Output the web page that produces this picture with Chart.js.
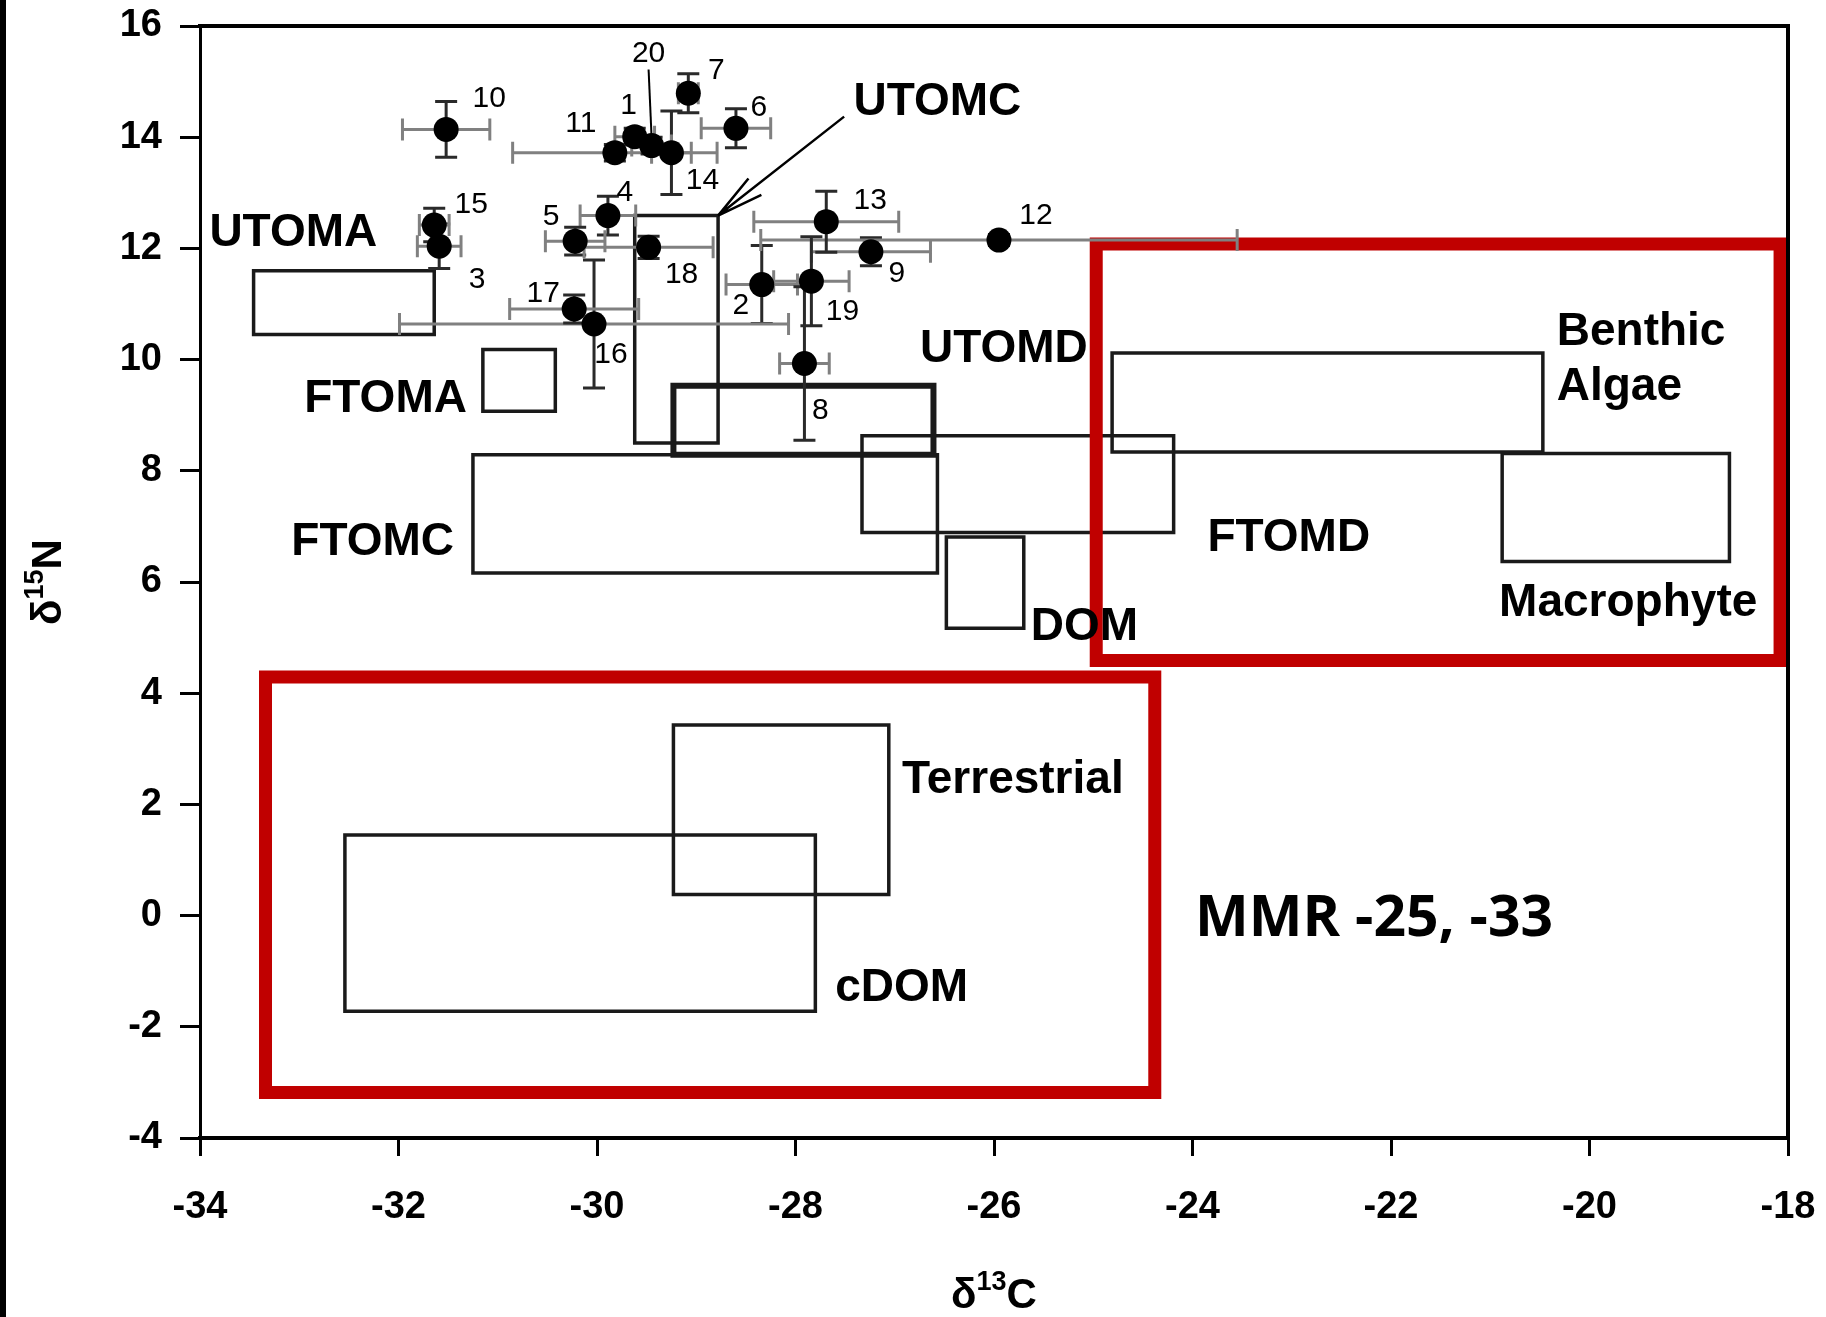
<!DOCTYPE html>
<html>
<head>
<meta charset="utf-8">
<script src="https://cdn.jsdelivr.net/npm/chart.js@4.4.1/dist/chart.umd.min.js"></script>
<style>
  html, body { margin: 0; padding: 0; background: #fff; }
  #wrap { width: 1826px; height: 1317px; }
</style>
</head>
<body>
<div id="wrap"><canvas id="isoChart" width="1826" height="1317"></canvas></div>
<script>
// Données : échantillons (delta13C, delta15N, erreurs)
const pointIds = ['1', '2', '3', '4', '5', '6', '7', '8', '9', '10',
                  '11', '12', '13', '14', '15', '16', '17', '18', '19', '20'];
const pointC13 = [-29.62, -28.34, -31.59, -29.89, -30.22, -28.60, -29.08, -27.91, -27.24, -31.52,
                  -29.82, -25.95, -27.69, -29.25, -31.64, -30.03, -30.23, -29.48, -27.84, -29.45];
const pointN15 = [14.01, 11.35, 12.04, 12.59, 12.13, 14.16, 14.79, 9.93, 11.94, 14.14,
                  13.72, 12.15, 12.48, 13.72, 12.42, 10.64, 10.91, 12.02, 11.41, 13.85];
const errC13 = [0.20, 0.36, 0.22, 0.28, 0.30, 0.35, 0.10, 0.25, 0.60, 0.44,
                1.03, 2.40, 0.73, 0.20, 0.15, 1.96, 0.65, 0.65, 0.38, 0.20];
const errN15 = [0.15, 0.70, 0.40, 0.35, 0.25, 0.35, 0.35, 1.38, 0.25, 0.50,
                0.15, 0.10, 0.55, 0.75, 0.30, 1.15, 0.25, 0.20, 0.80, 0.15];

// Sources (rectangles)
const boxNames = ['UTOMA', 'FTOMA', 'UTOMC', 'UTOMD', 'FTOMC', 'FTOMD', 'DOM',
                  'Benthic Algae', 'Macrophyte', 'Terrestrial', 'cDOM'];
const boxC13Min = [-33.46, -31.15, -29.62, -29.23, -31.25, -27.33, -26.48, -24.81, -20.88, -29.23, -32.54];
const boxC13Max = [-31.64, -30.42, -28.78, -26.61, -26.57, -24.19, -25.70, -20.47, -18.59, -27.06, -27.80];
const boxN15Min = [10.45, 9.07, 8.50, 8.29, 6.16, 6.89, 5.17, 8.34, 6.37, 0.38, -1.72];
const boxN15Max = [11.60, 10.18, 12.59, 9.53, 8.29, 8.63, 6.81, 10.12, 8.31, 3.43, 1.45];

// Cadres rouges
const focusC13Min = [-24.97, -33.34];
const focusC13Max = [-18.08, -24.38];
const focusN15Min = [4.59, -3.18];
const focusN15Max = [12.08, 4.29];

// Graduations
const xTicks = [-34, -32, -30, -28, -26, -24, -22, -20, -18];
const yTicks = [-4, -2, 0, 2, 4, 6, 8, 10, 12, 14, 16];

// Mise en page des étiquettes (décalages en px, positions en unités des axes)
const pointLabelOffsets = [[-6, -31], [-21, 21], [38, 34], [17, -23], [-24, -24], [23, -21], [28, -23],
  [16, 47], [26, 22], [43, -31], [-34, -29], [37, -24], [44, -21], [31, 28], [37, -20], [17, 31],
  [-31, -15], [33, 27], [31, 31], [-3, -92]];
const boxLabels = [
  { text: 'UTOMA', x: -33.06, y: 12.27, align: 'center' },
  { text: 'FTOMA', x: -32.13, y: 9.28, align: 'center' },
  { text: 'FTOMC', x: -32.26, y: 6.72, align: 'center' },
  { text: 'UTOMC', x: -26.57, y: 14.62, align: 'center' },
  { text: 'UTOMD', x: -25.90, y: 10.18, align: 'center' },
  { text: 'FTOMD', x: -23.03, y: 6.79, align: 'center' },
  { text: 'DOM', x: -25.09, y: 5.19, align: 'center' },
  { text: 'Benthic', x: -20.33, y: 10.49, align: 'left' },
  { text: 'Algae', x: -20.33, y: 9.51, align: 'left' },
  { text: 'Macrophyte', x: -19.61, y: 5.61, align: 'center' },
  { text: 'Terrestrial', x: -25.81, y: 2.43, align: 'center' },
  { text: 'cDOM', x: -26.93, y: -1.30, align: 'center' }
];

const LEFT_W = 200;
const BOTTOM_H = 179;

function rectPath(i, x0, x1, y0, y1) {
  return [
    { x: x0[i], y: y0[i] }, { x: x1[i], y: y0[i] }, { x: x1[i], y: y1[i] },
    { x: x0[i], y: y1[i] }, { x: x0[i], y: y0[i] }
  ];
}

const datasets = [];
datasets.push({
  label: 'Échantillons',
  data: pointC13.map((x, i) => ({ x: x, y: pointN15[i] })),
  pointRadius: 12.5,
  pointBackgroundColor: '#000',
  pointBorderWidth: 0,
  showLine: false,
  order: 0
});
focusC13Min.forEach((v, i) => {
  datasets.push({
    label: 'focus' + i,
    data: rectPath(i, focusC13Min, focusC13Max, focusN15Min, focusN15Max),
    showLine: true,
    pointRadius: 0,
    borderColor: '#C00000',
    borderWidth: 13,
    borderJoinStyle: 'miter',
    borderCapStyle: 'square',
    fill: false,
    order: 1
  });
});
boxNames.forEach((name, i) => {
  datasets.push({
    label: name,
    data: rectPath(i, boxC13Min, boxC13Max, boxN15Min, boxN15Max),
    showLine: true,
    pointRadius: 0,
    borderColor: '#1a1a1a',
    borderWidth: name === 'UTOMD' ? 6 : 3.5,
    borderJoinStyle: 'miter',
    borderCapStyle: 'square',
    fill: false,
    order: 2
  });
});

// Barres d'erreur dessinées juste avant les points
const errorBars = {
  id: 'errorBars',
  beforeDatasetDraw(chart, args) {
    if (args.index !== 0) return;
    const ctx = chart.ctx, xs = chart.scales.x, ys = chart.scales.y;
    const cap = 11;
    ctx.save();
    ctx.lineWidth = 3;
    pointC13.forEach((x, i) => {
      const px = xs.getPixelForValue(x), py = ys.getPixelForValue(pointN15[i]);
      const xl = xs.getPixelForValue(x - errC13[i]), xr = xs.getPixelForValue(x + errC13[i]);
      const yt = ys.getPixelForValue(pointN15[i] + errN15[i]), yb = ys.getPixelForValue(pointN15[i] - errN15[i]);
      ctx.strokeStyle = '#808080';
      ctx.beginPath();
      ctx.moveTo(xl, py); ctx.lineTo(xr, py);
      ctx.moveTo(xl, py - cap); ctx.lineTo(xl, py + cap);
      ctx.moveTo(xr, py - cap); ctx.lineTo(xr, py + cap);
      ctx.stroke();
      ctx.strokeStyle = '#2a2a2a';
      ctx.beginPath();
      ctx.moveTo(px, yt); ctx.lineTo(px, yb);
      ctx.moveTo(px - cap, yt); ctx.lineTo(px + cap, yt);
      ctx.moveTo(px - cap, yb); ctx.lineTo(px + cap, yb);
      ctx.stroke();
    });
    ctx.restore();
  }
};

function drawSupTitle(ctx, base, sup, tail) {
  const big = 'bold 42px "Liberation Sans", Arial, sans-serif';
  const small = 'bold 27px "Liberation Sans", Arial, sans-serif';
  ctx.font = big; const w1 = ctx.measureText(base).width;
  const w3 = ctx.measureText(tail).width;
  ctx.font = small; const w2 = ctx.measureText(sup).width;
  let x = -(w1 + w2 + w3) / 2;
  ctx.textBaseline = 'alphabetic';
  ctx.textAlign = 'left';
  ctx.font = big; ctx.fillText(base, x, 15); x += w1;
  ctx.font = small; ctx.fillText(sup, x, -3); x += w2;
  ctx.font = big; ctx.fillText(tail, x, 15);
}

// Textes, cadre, flèche, titres des axes
const annotations = {
  id: 'annotations',
  afterDatasetsDraw(chart) {
    const ctx = chart.ctx, xs = chart.scales.x, ys = chart.scales.y, a = chart.chartArea;
    ctx.save();
    // cadre haut et droit
    ctx.strokeStyle = '#000';
    ctx.lineWidth = 4;
    ctx.beginPath();
    ctx.moveTo(a.left - 2, a.top); ctx.lineTo(a.right, a.top); ctx.lineTo(a.right, a.bottom);
    ctx.stroke();

    // numéros des échantillons
    ctx.fillStyle = '#000';
    ctx.font = '30px "Liberation Sans Narrow", "Liberation Sans", Arial, sans-serif';
    ctx.textAlign = 'center';
    ctx.textBaseline = 'middle';
    pointIds.forEach((id, i) => {
      const px = xs.getPixelForValue(pointC13[i]) + pointLabelOffsets[i][0];
      const py = ys.getPixelForValue(pointN15[i]) + pointLabelOffsets[i][1];
      ctx.fillText(id, px, py);
    });
    // trait de rappel pour 20
    const i20 = pointIds.indexOf('20');
    const p20x = xs.getPixelForValue(pointC13[i20]), p20y = ys.getPixelForValue(pointN15[i20]);
    ctx.strokeStyle = '#000';
    ctx.lineWidth = 2;
    ctx.beginPath();
    ctx.moveTo(p20x + pointLabelOffsets[i20][0], p20y + pointLabelOffsets[i20][1] + 16);
    ctx.lineTo(p20x, p20y - 8);
    ctx.stroke();

    // étiquettes des sources
    ctx.font = 'bold 46px "Liberation Sans", Arial, sans-serif';
    boxLabels.forEach(l => {
      ctx.textAlign = l.align;
      ctx.fillText(l.text, xs.getPixelForValue(l.x), ys.getPixelForValue(l.y));
    });

    // flèche UTOMC
    const iC = boxNames.indexOf('UTOMC');
    const tx = xs.getPixelForValue(boxC13Max[iC]), ty = ys.getPixelForValue(boxN15Max[iC]);
    const sx = xs.getPixelForValue(-27.51), sy = ys.getPixelForValue(14.37);
    const ang = Math.atan2(sy - ty, sx - tx);
    ctx.lineWidth = 2.5;
    ctx.beginPath();
    ctx.moveTo(sx, sy); ctx.lineTo(tx, ty);
    [-0.22, 0.22].forEach(d => {
      ctx.moveTo(tx, ty);
      ctx.lineTo(tx + 48 * Math.cos(ang + d), ty + 48 * Math.sin(ang + d));
    });
    ctx.stroke();

    // MMR
    ctx.font = 'bold 57px "Open Sans", Lato, sans-serif';
    ctx.textAlign = 'center';
    ctx.fillText('MMR -25, -33', xs.getPixelForValue(-22.17), ys.getPixelForValue(-0.08));

    // titres des axes
    ctx.save();
    ctx.translate((a.left + a.right) / 2, 1293);
    drawSupTitle(ctx, 'δ', '13', 'C');
    ctx.restore();
    ctx.save();
    ctx.translate(46, (a.top + a.bottom) / 2);
    ctx.rotate(-Math.PI / 2);
    drawSupTitle(ctx, 'δ', '15', 'N');
    ctx.restore();

    // bande noire à gauche
    ctx.fillStyle = '#000';
    ctx.fillRect(0, 0, 6, chart.height);
    ctx.restore();
  }
};

const tickFont = { family: '"Liberation Sans", Arial, sans-serif', size: 38, weight: 'bold', lineHeight: 1 };

new Chart(document.getElementById('isoChart'), {
  type: 'scatter',
  data: { datasets: datasets },
  options: {
    responsive: false,
    animation: false,
    devicePixelRatio: 1,
    layout: { padding: { top: 26, right: 38, left: 0, bottom: 0 } },
    plugins: { legend: { display: false }, tooltip: { enabled: false } },
    scales: {
      x: {
        type: 'linear',
        min: xTicks[0],
        max: xTicks[xTicks.length - 1],
        afterBuildTicks: s => { s.ticks = xTicks.map(v => ({ value: v })); },
        afterFit: s => { s.height = BOTTOM_H; s.paddingLeft = 0; s.paddingRight = 0; },
        ticks: { color: '#000', font: tickFont, padding: 33, maxRotation: 0 },
        grid: { display: true, drawOnChartArea: false, drawTicks: true, tickLength: 18, lineWidth: 3, color: '#000' },
        border: { display: true, width: 4, color: '#000' }
      },
      y: {
        type: 'linear',
        min: yTicks[0],
        max: yTicks[yTicks.length - 1],
        afterBuildTicks: s => { s.ticks = yTicks.map(v => ({ value: v })); },
        afterFit: s => { s.width = LEFT_W; s.paddingTop = 0; s.paddingBottom = 0; },
        ticks: { color: '#000', font: tickFont, padding: 18 },
        grid: { display: true, drawOnChartArea: false, drawTicks: true, tickLength: 20, lineWidth: 3, color: '#000' },
        border: { display: true, width: 3, color: '#000' }
      }
    }
  },
  plugins: [errorBars, annotations]
});
</script>
</body>
</html>
